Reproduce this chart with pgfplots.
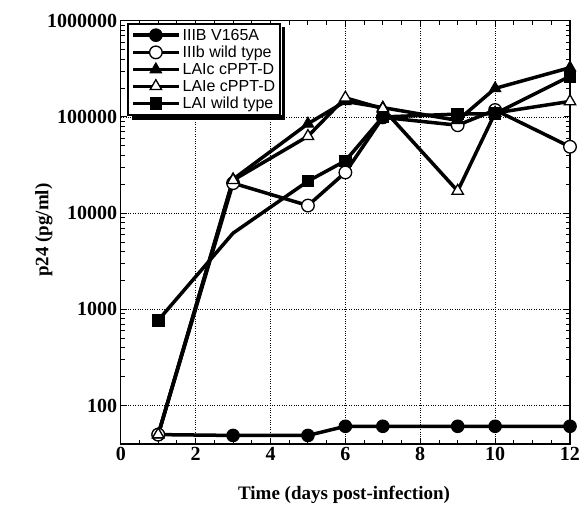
\documentclass[border=0pt]{standalone}
\usepackage{fontspec}
\setmainfont{Liberation Serif}
\newfontfamily\legendfont{Liberation Sans}
\usepackage{pgfplots}
\pgfplotsset{compat=1.18}

\begin{document}
\begin{tikzpicture}
\begin{axis}[
    scale only axis,
    width=449pt, height=423pt,
    xmin=0, xmax=12,
    ymode=log, ymin=40, ymax=1000000,
    xtick={0,2,4,6,8,10,12},
    xticklabels={0,2,4,6,8,10,12},
    minor x tick num=3,
    ytick={100,1000,10000,100000,1000000},
    yticklabels={100,1000,10000,100000,1000000},
    tick label style={font=\fontsize{20}{22}\selectfont\bfseries},
    label style={font=\fontsize{19}{22}\selectfont\bfseries},
    xlabel={Time (days post-infection)},
    ylabel={p24 (pg/ml)},
    xlabel style={at={(axis description cs:0.497,-0.12)}, anchor=center},
    ylabel style={at={(axis description cs:-0.171,0.505)}, anchor=center},
    axis line style={line width=1.4pt},
    major tick length=6pt, minor tick length=4pt,
    every tick/.style={black, line width=0.9pt},
    xmajorgrids, ymajorgrids,
    major grid style={dotted, black, line width=0.8pt},
    legend cell align=left,
    legend style={at={(axis description cs:0.015,0.994)}, anchor=north west,
        name=leg,
        font=\fontsize{16}{16.5}\selectfont\legendfont,
        draw=black, line width=1.6pt, fill=white,
        row sep=0.3pt, inner sep=2.8pt},
    legend image code/.code={\draw[#1, mark indices={2}]
        plot coordinates {(0pt,0pt)(23pt,0pt)(46pt,0pt)};},
    myline/.style={line width=3.5pt, black},
]
\addplot[myline, mark=*, mark size=6.3pt, mark options={solid, fill=black, line width=1pt}]
coordinates {(1,50)(3,49)(5,49)(6,61)(7,61)(9,61)(10,61)(12,61)};
\addlegendentry{IIIB V165A}
\addplot[myline, mark=*, mark size=6.3pt, mark options={solid, fill=white, line width=1.3pt}]
coordinates {(1,50)(3,20500)(5,12000)(6,26500)(7,99000)(9,82000)(10,118000)(12,49000)};
\addlegendentry{IIIb wild type}
\addplot[myline, mark=triangle*, mark size=6.6pt, mark options={solid, fill=black, line width=1pt}]
coordinates {(1,50)(3,22500)(5,85000)(6,145000)(7,125000)(9,92000)(10,198000)(12,325000)};
\addlegendentry{LAIc cPPT-D}
\addplot[myline, mark=triangle*, mark size=6.6pt, mark options={solid, fill=white, line width=1.3pt}]
coordinates {(1,50)(3,22000)(5,63000)(6,158000)(7,122000)(9,17000)(10,110000)(12,145000)};
\addlegendentry{LAIe cPPT-D}
\addplot[myline, mark=square*, mark size=5.8pt, mark indices={1,3,4,5,6,7,8}, mark options={solid, fill=black, line width=1pt}]
coordinates {(1,770)(3,6200)(5,21500)(6,35000)(7,100000)(9,107000)(10,108000)(12,265000)};
\addlegendentry{LAI wild type}
\end{axis}
% legend shadow (right and bottom strips)
\fill[black] ([xshift=4pt,yshift=0.8pt]leg.south west) rectangle ([xshift=4pt,yshift=-4pt]leg.south east);
\fill[black] ([xshift=0.8pt,yshift=-4pt]leg.north east) rectangle ([xshift=4pt,yshift=-4pt]leg.south east);
\path ([xshift=-120.7pt,yshift=-77pt]current axis.south west)
      rectangle ([xshift=18pt,yshift=20.7pt]current axis.north east);
\end{tikzpicture}
\end{document}
